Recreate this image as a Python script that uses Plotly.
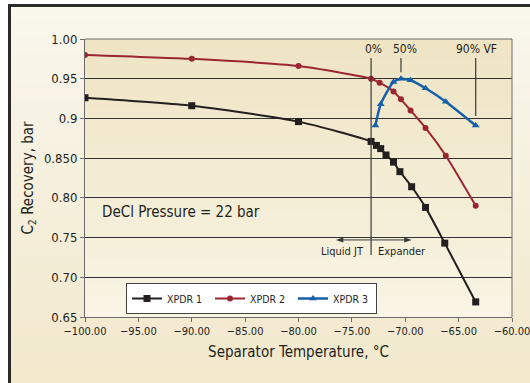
import plotly.graph_objects as go

# ---- data ----
x1 = [-100, -90, -80, -73.2, -72.7, -72.3, -71.8, -71.1, -70.5, -69.4, -68.1, -66.3, -63.4]
xpdr1 = [0.926, 0.916, 0.896, 0.871, 0.866, 0.862, 0.854, 0.845, 0.833, 0.814, 0.788, 0.743, 0.669]
x2 = [-100, -90, -80, -73.2, -72.4, -71.1, -70.4, -69.5, -68.1, -66.2, -63.4]
xpdr2 = [0.980, 0.975, 0.966, 0.950, 0.945, 0.934, 0.924, 0.910, 0.888, 0.853, 0.790]
x3 = [-72.8, -72.3, -71.1, -70.4, -69.5, -68.1, -66.2, -63.4]
xpdr3 = [0.891, 0.918, 0.946, 0.950, 0.948, 0.938, 0.921, 0.891]

ytick_vals = [0.65, 0.70, 0.75, 0.80, 0.85, 0.90, 0.95, 1.00]
ytick_text = ["0.65", "0.70", "0.75", "0.80", "0.850", "0.9", "0.95", "1.00"]
xtick_vals = [-100, -95, -90, -85, -80, -75, -70, -65, -60]

FONT = "Liberation Sans Narrow, DejaVu Sans Condensed, Arial Narrow, sans-serif"
TXT = "#231f20"

fig = go.Figure()
fig.add_trace(go.Scatter(x=x1, y=xpdr1, name="XPDR 1", mode="lines+markers",
                         line=dict(color="#231f20", width=2, shape="spline", smoothing=0.6),
                         marker=dict(symbol="square", size=7, color="#231f20")))
fig.add_trace(go.Scatter(x=x2, y=xpdr2, name="XPDR 2", mode="lines+markers",
                         line=dict(color="#9b2630", width=2, shape="spline", smoothing=0.6),
                         marker=dict(symbol="circle", size=6, color="#9b2630")))
fig.add_trace(go.Scatter(x=x3, y=xpdr3, name="XPDR 3", mode="lines+markers",
                         line=dict(color="#1560a8", width=2.5, shape="spline", smoothing=0.6),
                         marker=dict(symbol="triangle-up", size=7, color="#1560a8")))

W, H = 530, 383
L, R, T, B = 85, 512, 39, 317


def px(xp):
    return (xp - L) / (R - L)


def py(yp):
    return (B - yp) / (B - T)


shapes = []
shapes.append(dict(type="rect", xref="paper", yref="paper", x0=px(-5), x1=px(540), y0=py(400), y1=py(-10),
                   fillcolor="white", line=dict(width=0), layer="below"))
# outer gradient
n = 24
c_top = (250, 247, 237)
c_bot = (242, 233, 205)
for i in range(n):
    t = i / (n - 1)
    c = tuple(int(c_top[k] + (c_bot[k] - c_top[k]) * t) for k in range(3))
    y0 = 5 + (383 - 5) * i / n
    y1 = 5 + (383 - 5) * (i + 1) / n + 1
    shapes.append(dict(type="rect", xref="paper", yref="paper", x0=px(9), x1=px(531), y0=py(y1), y1=py(y0),
                       fillcolor="rgb(%d,%d,%d)" % c, line=dict(width=0), layer="below"))
# plot area gradient
p_top = (239, 229, 197)
p_bot = (249, 244, 228)
m = 24
for i in range(m):
    t = i / (m - 1)
    c = tuple(int(p_top[k] + (p_bot[k] - p_top[k]) * t) for k in range(3))
    y0 = T + (B - T) * i / m
    y1 = T + (B - T) * (i + 1) / m + 0.6
    shapes.append(dict(type="rect", xref="paper", yref="paper", x0=0, x1=1, y0=py(y1), y1=py(y0),
                       fillcolor="rgb(%d,%d,%d)" % c, line=dict(width=0), layer="below"))
# frame top/left dark edges
shapes.append(dict(type="line", xref="paper", yref="paper", x0=px(8), x1=px(531), y0=py(5.5), y1=py(5.5),
                   line=dict(color="#2b2b2b", width=3)))
shapes.append(dict(type="line", xref="paper", yref="paper", x0=px(9.5), x1=px(9.5), y0=py(4), y1=py(390),
                   line=dict(color="#2b2b2b", width=3)))
# plot border (top and right)
shapes.append(dict(type="line", xref="paper", yref="paper", x0=0, x1=1, y0=1, y1=1,
                   line=dict(color="#6b6b6b", width=1)))
shapes.append(dict(type="line", xref="paper", yref="paper", x0=1, x1=1, y0=0, y1=1,
                   line=dict(color="#6b6b6b", width=1)))
# vapor fraction markers
shapes.append(dict(type="line", xref="x", yref="y", x0=-73.2, x1=-73.2, y0=0.728, y1=0.976,
                   line=dict(color="#3a3a3a", width=1.2)))
shapes.append(dict(type="line", xref="x", yref="y", x0=-70.4, x1=-70.4, y0=0.958, y1=0.976,
                   line=dict(color="#3a3a3a", width=1.2)))
shapes.append(dict(type="line", xref="x", yref="y", x0=-63.4, x1=-63.4, y0=0.903, y1=0.976,
                   line=dict(color="#3a3a3a", width=1.2)))
# double-headed arrow
shapes.append(dict(type="line", xref="x", yref="y", x0=-76.0, x1=-69.8, y0=0.747, y1=0.747,
                   line=dict(color="#3a3a3a", width=1)))
shapes.append(dict(type="path", xref="x", yref="y",
                   path="M -69.4 0.747 L -70.1 0.7503 L -70.1 0.7437 Z",
                   fillcolor="#3a3a3a", line=dict(width=0)))
shapes.append(dict(type="path", xref="x", yref="y",
                   path="M -76.5 0.747 L -75.8 0.7503 L -75.8 0.7437 Z",
                   fillcolor="#3a3a3a", line=dict(width=0)))

annotations = [
    dict(x=-73.0, y=0.987, xref="x", yref="y", text="0%", showarrow=False,
         font=dict(family=FONT, size=12, color=TXT)),
    dict(x=-70.0, y=0.987, xref="x", yref="y", text="50%", showarrow=False,
         font=dict(family=FONT, size=12, color=TXT)),
    dict(x=-63.3, y=0.987, xref="x", yref="y", text="90% VF", showarrow=False,
         font=dict(family=FONT, size=12, color=TXT)),
    dict(x=-91.0, y=0.782, xref="x", yref="y", text="DeCl Pressure = 22 bar", showarrow=False,
         font=dict(family=FONT, size=15, color=TXT)),
    dict(x=-73.7, y=0.733, xref="x", yref="y", text="Liquid JT", showarrow=False, xanchor="right",
         font=dict(family=FONT, size=11, color=TXT)),
    dict(x=-72.7, y=0.733, xref="x", yref="y", text="Expander", showarrow=False, xanchor="left",
         font=dict(family=FONT, size=11, color=TXT)),
]

fig.update_layout(
    width=W, height=H,
    margin=dict(l=L, r=W - R, t=T, b=H - B),
    paper_bgcolor="white",
    plot_bgcolor="rgba(0,0,0,0)",
    font=dict(family=FONT, color=TXT),
    shapes=shapes,
    annotations=annotations,
    showlegend=True,
    legend=dict(orientation="h", x=px(126), y=py(283), xanchor="left", yanchor="top",
                bgcolor="white", bordercolor="#444444", borderwidth=1,
                font=dict(family=FONT, size=10.5, color=TXT),
                itemwidth=30, entrywidth=38, tracegroupgap=0),
    xaxis=dict(range=[-100, -60], tickvals=xtick_vals, tickformat=".2f", automargin=False,
               ticklabeloverflow="allow",
               showgrid=False, zeroline=False, showline=True, linecolor="#6b6b6b", linewidth=1,
               ticks="outside", ticklen=4, tickcolor="#6b6b6b",
               tickfont=dict(family=FONT, size=11, color=TXT),
               title=dict(text="Separator Temperature, °C", font=dict(family=FONT, size=15, color=TXT), standoff=9)),
    yaxis=dict(range=[0.65, 1.00], tickvals=ytick_vals, ticktext=ytick_text, automargin=False,
               showgrid=True, gridcolor="#333333", gridwidth=1, zeroline=False,
               showline=True, linecolor="#6b6b6b", linewidth=1,
               ticks="outside", ticklen=4, tickcolor="#6b6b6b",
               tickfont=dict(family=FONT, size=13, color=TXT),
               title=dict(text="C<sub>2</sub> Recovery, bar", font=dict(family=FONT, size=15, color=TXT), standoff=6)),
)

fig.write_html("out.html", config={"displayModeBar": False},
               post_script="document.body.style.margin='0';")
